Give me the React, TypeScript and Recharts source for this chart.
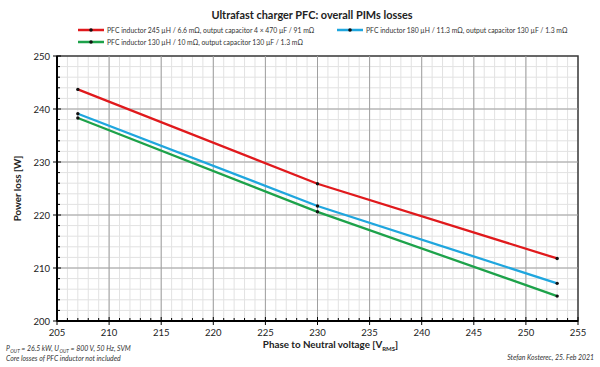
import {
  LineChart,
  Line,
  XAxis,
  YAxis,
  CartesianGrid,
  ReferenceLine,
  ReferenceArea,
} from 'recharts'

const FONT = 'Lato, "Noto Sans", sans-serif'

const voltages = [207, 230, 253]
const lossA = [243.7, 225.9, 211.8]
const lossB = [239.1, 221.7, 207.1]
const lossC = [238.3, 220.6, 204.7]

const seriesNames = [
  'PFC inductor 245 µH / 6.6 mΩ, output capacitor 4 × 470 µF / 91 mΩ',
  'PFC inductor 180 µH / 11.3 mΩ, output capacitor 130 µF / 1.3 mΩ',
  'PFC inductor 130 µH / 10 mΩ, output capacitor 130 µF / 1.3 mΩ',
]
const seriesColors = ['#e0191c', '#1fa6de', '#1da24a']

const xTicks = Array.from({ length: 51 }, (_, i) => 205 + i)
const yTicks = Array.from({ length: 26 }, (_, i) => 200 + i * 2)
const xMajor = [210, 215, 220, 225, 230, 235, 240, 245, 250]
const yMajor = [210, 220, 230, 240]

const data = voltages.map((v, i) => ({ v, a: lossA[i], b: lossB[i], c: lossC[i] }))

function XTick(props: any) {
  const { x, y, payload } = props
  const major = payload.value % 5 === 0
  return (
    <g>
      <line x1={x} x2={x} y1={major ? y - 4 : y - 3} y2={major ? y + 4 : y} stroke="#000" strokeWidth={1} />
      {major && (
        <text x={x} y={y + 15} textAnchor="middle" fontSize={9.5} fill="#222" fontFamily={FONT}>
          {payload.value}
        </text>
      )}
    </g>
  )
}

function YTick(props: any) {
  const { x, y, payload } = props
  const major = payload.value % 10 === 0
  return (
    <g>
      <line x1={major ? x - 4 : x} x2={major ? x + 4 : x + 3} y1={y} y2={y} stroke="#000" strokeWidth={1} />
      {major && (
        <text x={x - 7} y={y + 3.5} textAnchor="end" fontSize={9.5} fill="#222" fontFamily={FONT}>
          {payload.value}
        </text>
      )}
    </g>
  )
}

function LegendItem({ color, label, x, y }: { color: string; label: string; x: number; y: number }) {
  return (
    <div style={{ position: 'absolute', left: x, top: y, display: 'flex', alignItems: 'center', whiteSpace: 'nowrap' }}>
      <svg width={26} height={6} style={{ marginRight: 3 }}>
        <line x1={0} x2={26} y1={3} y2={3} stroke={color} strokeWidth={2.5} />
        <circle cx={13} cy={3} r={1.8} fill="#111" />
      </svg>
      <span style={{ fontSize: 6.8, color: '#333', fontFamily: FONT }}>{label}</span>
    </div>
  )
}

const dotStyle = { r: 1.7, fill: '#111', stroke: 'none' }
const subStyle = { fontSize: 4.8, verticalAlign: '-1.5px', marginLeft: 0.4, lineHeight: '5px' }

export default function App() {
  return (
    <div style={{ position: 'absolute', left: 0, top: 0, width: 600, height: 367, background: '#fff', fontFamily: FONT }}>
      <div style={{ position: 'absolute', left: 0, width: 624, top: 8, textAlign: 'center', fontSize: 10.9, fontWeight: 700, color: '#222' }}>
        Ultrafast charger PFC: overall PIMs losses
      </div>
      <LegendItem color={seriesColors[0]} label={seriesNames[0]} x={78} y={26} />
      <LegendItem color={seriesColors[1]} label={seriesNames[1]} x={337} y={26} />
      <LegendItem color={seriesColors[2]} label={seriesNames[2]} x={78} y={38} />

      <LineChart width={600} height={367} data={data} margin={{ top: 56, right: 22, bottom: 0, left: 0 }}>
        <CartesianGrid stroke="#e2e2e2" strokeWidth={1} />
        {xMajor.map(v => (
          <ReferenceLine key={'x' + v} x={v} stroke="#a0a0a0" strokeWidth={1} />
        ))}
        {yMajor.map(v => (
          <ReferenceLine key={'y' + v} y={v} stroke="#a0a0a0" strokeWidth={1} />
        ))}
        <ReferenceArea x1={205} x2={255} y1={200} y2={250} fill="none" stroke="#3a3a3a" strokeWidth={1.5} />
        <XAxis
          dataKey="v"
          type="number"
          domain={[205, 255]}
          ticks={xTicks}
          interval={0}
          height={46}
          tickSize={0}
          tickMargin={0}
          tickLine={false}
          axisLine={{ stroke: '#000', strokeWidth: 2 }}
          tick={<XTick />}
          label={(p: any) => {
            const vb = p.viewBox
            return (
              <text x={vb.x + vb.width / 2 + 13} y={vb.y + 27} textAnchor="middle" fontSize={9.8} fontWeight={700} fill="#222" fontFamily={FONT}>
                Phase to Neutral voltage [V
                <tspan fontSize={6} dy={2.5}>RMS</tspan>
                <tspan dy={-2.5}>]</tspan>
              </text>
            )
          }}
        />
        <YAxis
          type="number"
          domain={[200, 250]}
          ticks={yTicks}
          interval={0}
          width={57}
          tickSize={0}
          tickMargin={0}
          tickLine={false}
          axisLine={{ stroke: '#000', strokeWidth: 2 }}
          tick={<YTick />}
          label={{
            value: 'Power loss [W]',
            angle: -90,
            position: 'insideLeft',
            offset: 18,
            style: { fontSize: 9.8, fontWeight: 700, fill: '#222', fontFamily: FONT, textAnchor: 'middle' },
          }}
        />
        <Line dataKey="a" stroke={seriesColors[0]} strokeWidth={2.3} dot={dotStyle} isAnimationActive={false} />
        <Line dataKey="b" stroke={seriesColors[1]} strokeWidth={2.3} dot={dotStyle} isAnimationActive={false} />
        <Line dataKey="c" stroke={seriesColors[2]} strokeWidth={2.3} dot={dotStyle} isAnimationActive={false} />
      </LineChart>

      <div style={{ position: 'absolute', left: 6, top: 344, fontSize: 6.9, fontStyle: 'italic', color: '#333', lineHeight: '9px' }}>
        <div>
          P<span style={subStyle}>OUT</span> = 26.5 kW, U<span style={subStyle}>OUT</span> = 800 V, 50 Hz, SVM
        </div>
        <div>Core losses of PFC inductor not included</div>
      </div>
      <div style={{ position: 'absolute', right: 6, top: 353, fontSize: 6.9, fontStyle: 'italic', color: '#333' }}>
        Stefan Kosterec, 25. Feb 2021
      </div>
    </div>
  )
}
